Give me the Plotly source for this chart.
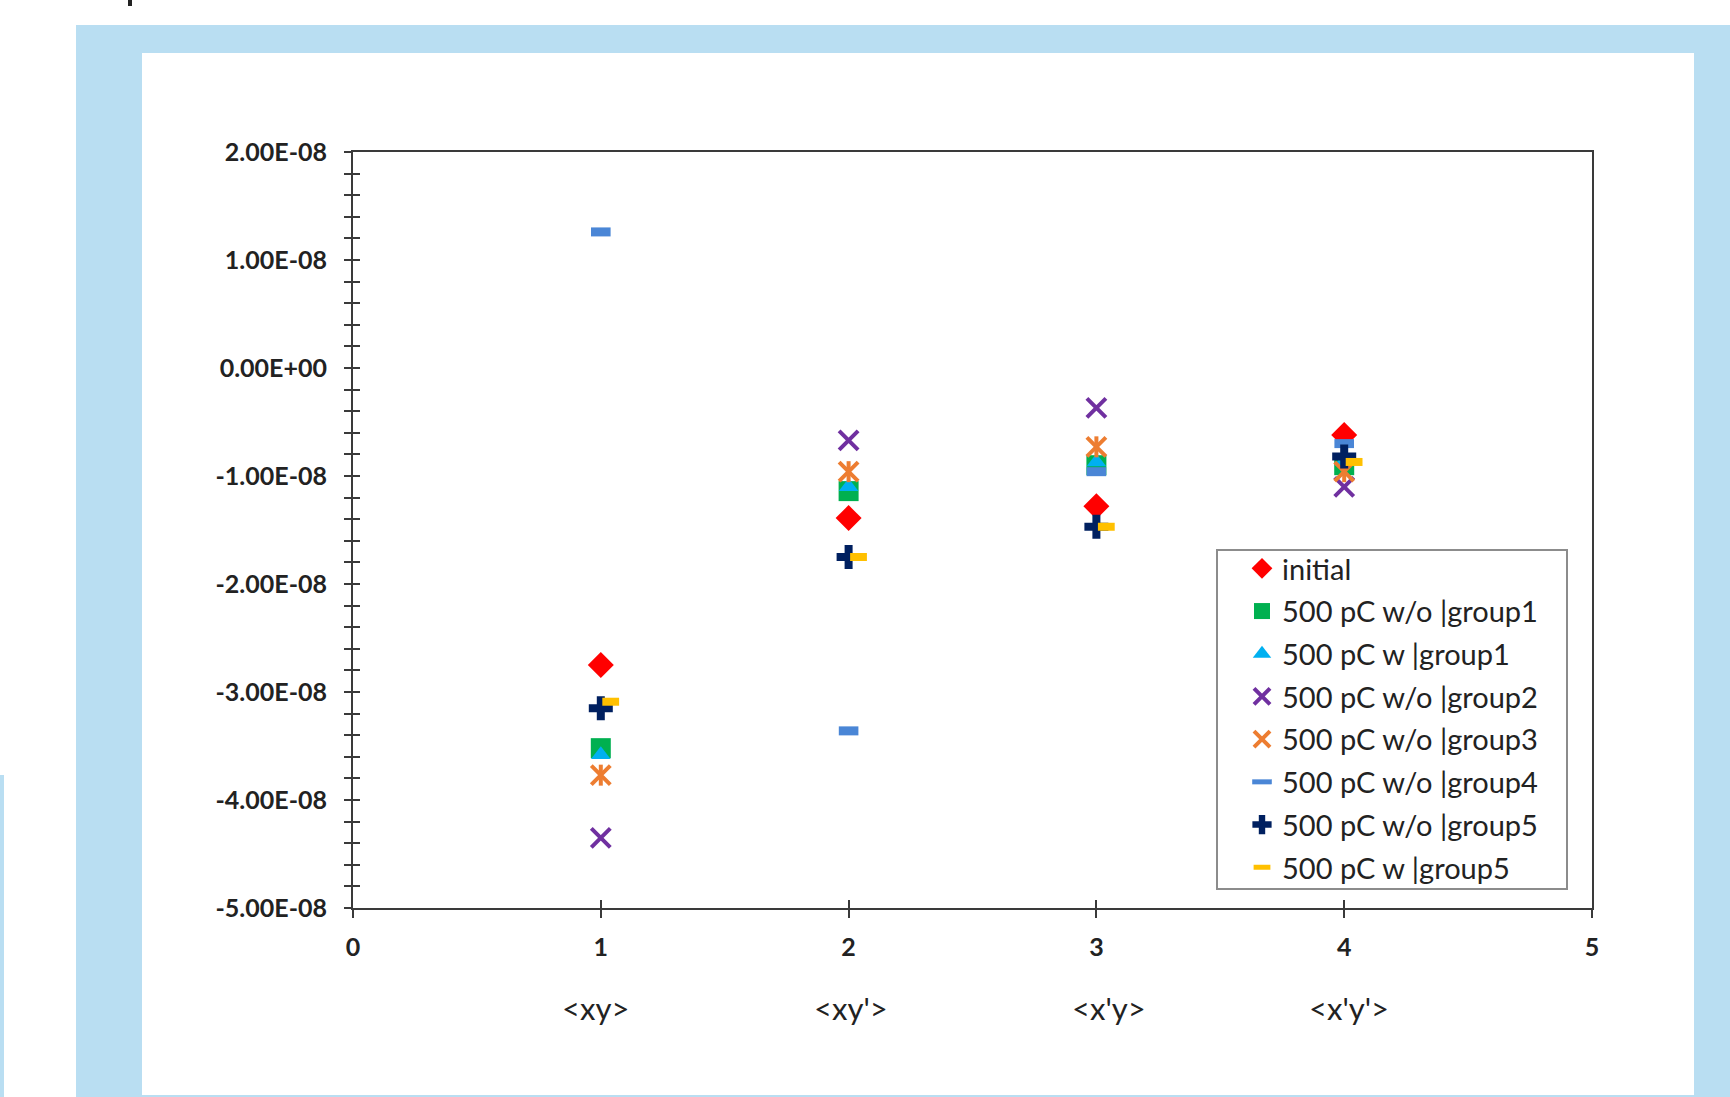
import plotly.graph_objects as go

# ---------------- data ----------------
x_pos = [1, 2, 3, 4]
x_pos_g5w = [1.04, 2.04, 3.04, 4.04]
categories = ["&lt;xy&gt;", "&lt;xy'&gt;", "&lt;x'y&gt;", "&lt;x'y'&gt;"]
cat_x = [0.98, 2.01, 3.05, 4.02]

initial = [-2.75e-8, -1.39e-8, -1.28e-8, -0.62e-8]
g1_wo = [-3.52e-8, -1.14e-8, -0.90e-8, -0.90e-8]
g1_w = [-3.58e-8, -1.10e-8, -0.87e-8, -0.86e-8]
g2_wo = [-4.35e-8, -0.67e-8, -0.37e-8, -1.10e-8]
g3_wo = [-3.77e-8, -0.96e-8, -0.73e-8, -0.96e-8]
g4_wo = [1.26e-8, -3.36e-8, -0.96e-8, -0.70e-8]
g5_wo = [-3.15e-8, -1.75e-8, -1.47e-8, -0.82e-8]
g5_w = [-3.09e-8, -1.75e-8, -1.47e-8, -0.87e-8]

y_tickvals = [2e-8, 1e-8, 0, -1e-8, -2e-8, -3e-8, -4e-8, -5e-8]
y_ticktext = ["2.00E-08", "1.00E-08", "0.00E+00", "-1.00E-08", "-2.00E-08",
              "-3.00E-08", "-4.00E-08", "-5.00E-08"]
x_tickvals = [0, 1, 2, 3, 4, 5]

# ---------------- geometry ----------------
W, H = 1730, 1097
PL, PR, PT, PB = 353, 1592, 152, 908
pw, ph = PR - PL, PB - PT


def px(x):
    return (x - PL) / pw


def py(y):
    return (PB - y) / ph


FONT = "Lato"
TXT = "#222222"
AX = "#3a3a3a"

C_G2 = "#7030A0"
C_G3 = "#ED7D31"
C_G4 = "#4A86D6"
C_G5W = "#FFC000"

fig = go.Figure()

fig.add_trace(go.Scatter(x=x_pos, y=initial, mode="markers", name="initial",
                         legendgroup="a",
                         marker=dict(symbol="diamond", size=20, color="#FF0000")))
fig.add_trace(go.Scatter(x=x_pos, y=g1_wo, mode="markers", name="500 pC w/o |group1",
                         legendgroup="b",
                         marker=dict(symbol="square", size=20, color="#00B050")))
fig.add_trace(go.Scatter(x=x_pos, y=g1_w, mode="markers", name="500 pC w |group1",
                         legendgroup="c",
                         marker=dict(symbol="triangle-up", size=17, color="#00B0F0")))
fig.add_trace(go.Scatter(x=x_pos, y=g2_wo, mode="markers", name="500 pC w/o |group2",
                         legendgroup="d",
                         marker=dict(symbol="x-thin-open", size=19, color=C_G2,
                                     line=dict(color=C_G2, width=4))))
fig.add_trace(go.Scatter(x=x_pos, y=g3_wo, mode="markers", name="500 pC w/o |group3",
                         legendgroup="e",
                         marker=dict(symbol="x-thin-open", size=19, color=C_G3,
                                     line=dict(color=C_G3, width=4))))
fig.add_trace(go.Scatter(x=x_pos, y=g3_wo, mode="markers", name="500 pC w/o |group3",
                         legendgroup="e", showlegend=False,
                         marker=dict(symbol="line-ns-open", size=15, color=C_G3,
                                     line=dict(color=C_G3, width=4))))
fig.add_trace(go.Scatter(x=x_pos, y=g4_wo, mode="markers", name="500 pC w/o |group4",
                         legendgroup="f",
                         marker=dict(symbol="line-ew-open", size=14, color=C_G4,
                                     line=dict(color=C_G4, width=9))))
fig.add_trace(go.Scatter(x=x_pos, y=g5_wo, mode="markers", name="500 pC w/o |group5",
                         legendgroup="g",
                         marker=dict(symbol="cross", size=20, color="#002060")))
fig.add_trace(go.Scatter(x=x_pos_g5w, y=g5_w, mode="markers", name="500 pC w |group5",
                         legendgroup="h",
                         marker=dict(symbol="line-ew-open", size=12, color=C_G5W,
                                     line=dict(color=C_G5W, width=8))))
# empty trace so the overlaid tick-only axes get drawn
fig.add_trace(go.Scatter(x=[None], y=[None], xaxis="x2", yaxis="y2",
                         mode="markers", showlegend=False, hoverinfo="skip"))

# frame shapes
BLUE = "#B9DEF2"
shapes = [
    dict(type="rect", xref="paper", yref="paper", layer="below",
         x0=px(76), x1=px(1730), y0=py(25), y1=py(1097),
         fillcolor=BLUE, line=dict(width=0)),
    dict(type="rect", xref="paper", yref="paper", layer="below",
         x0=px(142), x1=px(1694), y0=py(53), y1=py(1095),
         fillcolor="white", line=dict(width=0)),
    dict(type="rect", xref="paper", yref="paper", layer="below",
         x0=px(0), x1=px(4), y0=py(775), y1=py(1097),
         fillcolor=BLUE, line=dict(width=0)),
    dict(type="rect", xref="paper", yref="paper", layer="below",
         x0=px(128), x1=px(132), y0=py(0), y1=py(6),
         fillcolor="#222222", line=dict(width=0)),
    # legend box
    dict(type="rect", xref="paper", yref="paper", layer="above",
         x0=px(1217), x1=px(1567), y0=py(550), y1=py(889),
         fillcolor="white", line=dict(color="#8c8c8c", width=2)),
]

annotations = []
for cx, label in zip(cat_x, categories):
    annotations.append(dict(x=cx, y=0, xref="x", yref="paper", yshift=-(1008 - PB),
                            text=label, showarrow=False, yanchor="middle",
                            font=dict(family=FONT, size=31, color=TXT)))

fig.update_layout(
    width=W, height=H, autosize=False,
    template="none",
    paper_bgcolor="white",
    plot_bgcolor="rgba(0,0,0,0)",
    margin=dict(l=PL, r=W - PR, t=PT, b=H - PB, pad=0),
    showlegend=True,
    shapes=shapes,
    annotations=annotations,
    xaxis=dict(range=[0, 5], tickvals=x_tickvals, showgrid=False, zeroline=False,
               showline=True, linecolor=AX, linewidth=2, mirror=True,
               ticks="outside", ticklen=8, tickwidth=2, tickcolor=AX,
               ticklabelstandoff=8,
               tickfont=dict(family=FONT, size=25, color=TXT, weight="bold")),
    xaxis2=dict(range=[0, 5], overlaying="x", anchor="y", side="bottom",
                tickvals=x_tickvals, showgrid=False, zeroline=False, showline=False,
                showticklabels=False, ticks="inside", ticklen=8, tickwidth=2,
                tickcolor=AX),
    yaxis=dict(range=[-5e-8, 2e-8], tickvals=y_tickvals, ticktext=y_ticktext,
               showgrid=False, zeroline=False,
               showline=True, linecolor=AX, linewidth=2, mirror=True,
               ticks="outside", ticklen=7, tickwidth=2, tickcolor=AX,
               ticklabelstandoff=12,
               minor=dict(dtick=2e-9, tick0=0, ticks="outside", ticklen=7,
                          tickwidth=2, tickcolor=AX, showgrid=False),
               tickfont=dict(family=FONT, size=25, color=TXT, weight="bold")),
    yaxis2=dict(range=[-5e-8, 2e-8], overlaying="y", anchor="x", side="left",
                tickvals=y_tickvals, showgrid=False, zeroline=False, showline=False,
                showticklabels=False, ticks="inside", ticklen=7, tickwidth=2,
                tickcolor=AX,
                minor=dict(dtick=2e-9, tick0=0, ticks="inside", ticklen=7,
                           tickwidth=2, tickcolor=AX, showgrid=False)),
    legend=dict(x=px(1217), y=py(543), xanchor="left", yanchor="top",
                bgcolor="rgba(0,0,0,0)", borderwidth=0,
                font=dict(family=FONT, size=29, color="#222222"),
                indentation=25, itemsizing="trace", tracegroupgap=2,
                traceorder="grouped"),
)

fig.write_html("out.html")
